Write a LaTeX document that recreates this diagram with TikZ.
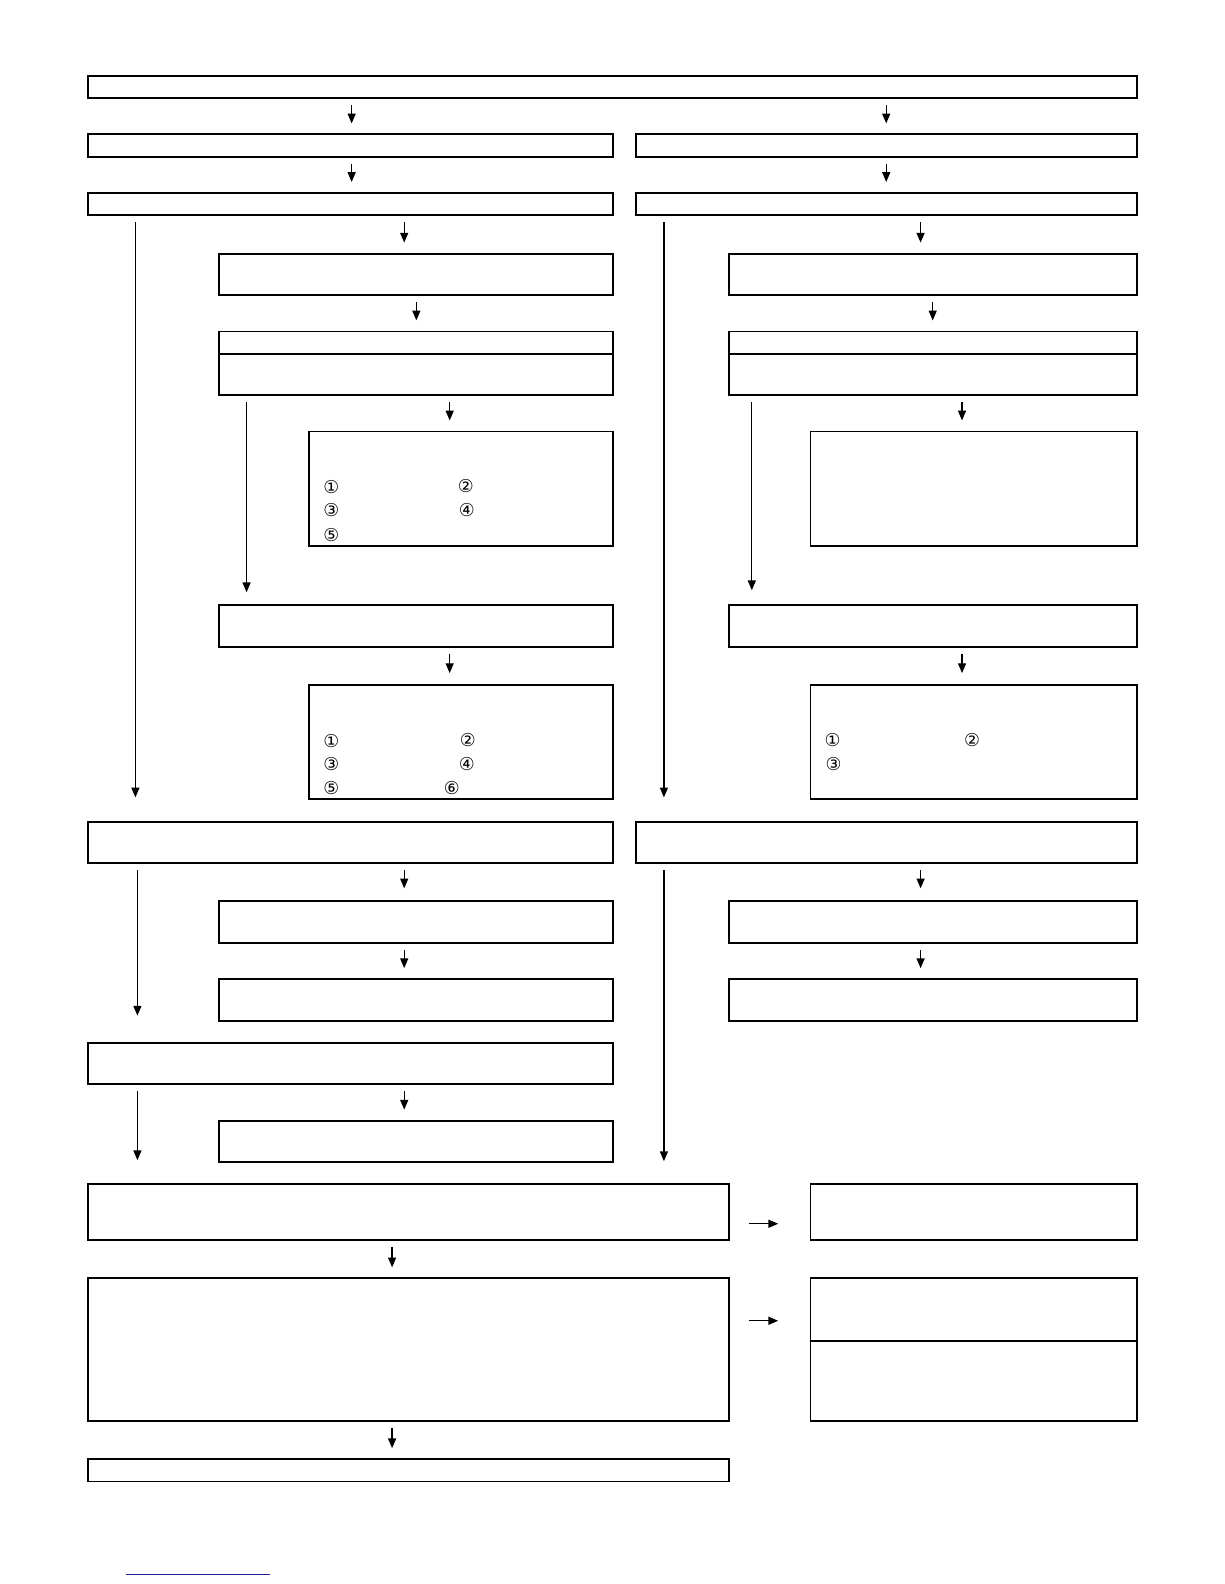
\documentclass[tikz,border=0pt]{standalone}
\usepackage{fontspec}
\newfontfamily\circfont{DejaVu Sans}
\usetikzlibrary{arrows.meta,fit}
\definecolor{linkblue}{RGB}{35,35,150}
\newdimen\pxu \pxu=0.569pt
\tikzset{
  box/.style={draw, line width=1.05pt, inner sep=0pt, fit={#1}},
  arr/.style={-{Triangle[length=5.5pt,width=4.5pt]}, line width=0.7pt,
    shorten <=6\pxu, shorten >=10\pxu},
  num/.style={font=\circfont\fontsize{10}{10}\selectfont, inner sep=0pt}
}
\begin{document}
\begin{tikzpicture}[x=0.02cm, y=-0.02cm]
  \useasboundingbox (0,0) rectangle (1211.3,1567.5);
  % top rows
  \node[box={(87,75) (1125,97)}] (top) {};
  \node[box={(87,133) (607,155)}] (l2) {};  \node[box={(629,133) (1125,155)}] (r2) {};
  \node[box={(87,191) (607,213)}] (l3) {};  \node[box={(629,191) (1125,213)}] (r3) {};
  \draw[arr] (348,0 |- top.south) -- (348,0 |- l2.north);
  \draw[arr] (877,0 |- top.south) -- (877,0 |- r2.north);
  \draw[arr] (348,0 |- l2.south) -- (348,0 |- l3.north);
  \draw[arr] (877,0 |- r2.south) -- (877,0 |- r3.north);
  % left branch
  \node[box={(217,251) (607,292)}] (l4) {};
  \node[box={(217,328) (607,391)}] (l5) {};
  \draw[line width=1.05pt] (l5.west |- 0,350) -- (l5.east |- 0,350);
  \node[box={(306,427) (607,540)}] (l6) {};
  \node[box={(217,599) (607,640)}] (l7) {};
  \node[box={(306,678) (607,791)}] (l8) {};
  \draw[arr] (400,0 |- l3.south) -- (400,0 |- l4.north);
  \draw[arr] (412,0 |- l4.south) -- (412,0 |- l5.north);
  \draw[arr] (445,0 |- l5.south) -- (445,0 |- l6.north);
  \draw[arr, shorten >=12\pxu] (244,0 |- l5.south) -- (244,0 |- l7.north);
  \draw[arr, shorten >=11\pxu] (445,0 |- l7.south) -- (445,0 |- l8.north);
  \node[num] (a1) at (328,482) {①}; \node[num] (a2) at (461,481) {②};
  \node[num] (a3) at (328,505) {③}; \node[num] (a4) at (462,505) {④};
  \node[num] (a5) at (328,529) {⑤};
  \node[num] (b1) at (328,733) {①}; \node[num] (b2) at (463,732) {②};
  \node[num] (b3) at (328,756) {③}; \node[num] (b4) at (462,756) {④};
  \node[num] (b5) at (328,780) {⑤}; \node[num] (b6) at (447,780) {⑥};
  % right branch
  \node[box={(721,251) (1125,292)}] (r4) {};
  \node[box={(721,328) (1125,391)}] (r5) {};
  \draw[line width=1.05pt] (r5.west |- 0,350) -- (r5.east |- 0,350);
  \node[box={(802,427) (1125,540)}] (r6) {};
  \node[box={(721,599) (1125,640)}] (r7) {};
  \node[box={(802,678) (1125,791)}] (r8) {};
  \draw[arr] (911,0 |- r3.south) -- (911,0 |- r4.north);
  \draw[arr] (923,0 |- r4.south) -- (923,0 |- r5.north);
  \draw[arr] (952,0 |- r5.south) -- (952,0 |- r6.north);
  \draw[arr, shorten >=14\pxu] (744,0 |- r5.south) -- (744,0 |- r7.north);
  \draw[arr, shorten >=11\pxu] (952,0 |- r7.south) -- (952,0 |- r8.north);
  \node[num] (c1) at (824,732) {①}; \node[num] (c2) at (962,732) {②};
  \node[num] (c3) at (825,756) {③};
  % middle rows
  \node[box={(87,813) (607,854)}] (l9) {};  \node[box={(629,813) (1125,854)}] (r9) {};
  \draw[arr, shorten >=23\pxu] (134,0 |- l3.south) -- (134,0 |- l9.north);
  \draw[arr, shorten >=23\pxu] (657,0 |- r3.south) -- (657,0 |- r9.north);
  \node[box={(217,892) (607,933)}] (l10) {};  \node[box={(721,892) (1125,933)}] (r10) {};
  \node[box={(217,969) (607,1010)}] (l11) {}; \node[box={(721,969) (1125,1010)}] (r11) {};
  \node[box={(87,1032) (607,1073)}] (l12) {};
  \node[box={(217,1109) (607,1150)}] (l13) {};
  \draw[arr, shorten >=12\pxu] (400,0 |- l9.south) -- (400,0 |- l10.north);
  \draw[arr] (400,0 |- l10.south) -- (400,0 |- l11.north);
  \draw[arr, shorten >=12\pxu] (911,0 |- r9.south) -- (911,0 |- r10.north);
  \draw[arr] (911,0 |- r10.south) -- (911,0 |- r11.north);
  \draw[arr, shorten >=26\pxu] (136,0 |- l9.south) -- (136,0 |- l12.north);
  \draw[arr] (400,0 |- l12.south) -- (400,0 |- l13.north);
  % bottom rows
  \node[box={(87,1172) (721,1227)}] (m1) {};  \node[box={(802,1172) (1125,1227)}] (s1) {};
  \node[box={(87,1265) (721,1406)}] (m2) {};  \node[box={(802,1265) (1125,1406)}] (s2) {};
  \draw[line width=1.05pt] (s2.west |- 0,1327) -- (s2.east |- 0,1327);
  \node[box={(87,1444) (721,1466)}] (m3) {};
  \draw[arr, shorten >=23\pxu] (136,0 |- l12.south) -- (136,0 |- m1.north);
  \draw[arr, shorten >=22\pxu] (657,0 |- r9.south) -- (657,0 |- m1.north);
  \draw[arr, shorten <=19\pxu, shorten >=31\pxu] (m1.east |- 0,1211) -- (s1.west |- 0,1211);
  \draw[arr, shorten <=19\pxu, shorten >=31\pxu] (m2.east |- 0,1307) -- (s2.west |- 0,1307);
  \draw[arr] (388,0 |- m1.south) -- (388,0 |- m2.north);
  \draw[arr] (388,0 |- m2.south) -- (388,0 |- m3.north);
  \coordinate (u1) at (125,1558); \coordinate (u2) at (267,1558);
  \draw[linkblue, line width=0.7pt] (u1) -- (u2);
\end{tikzpicture}
\end{document}
